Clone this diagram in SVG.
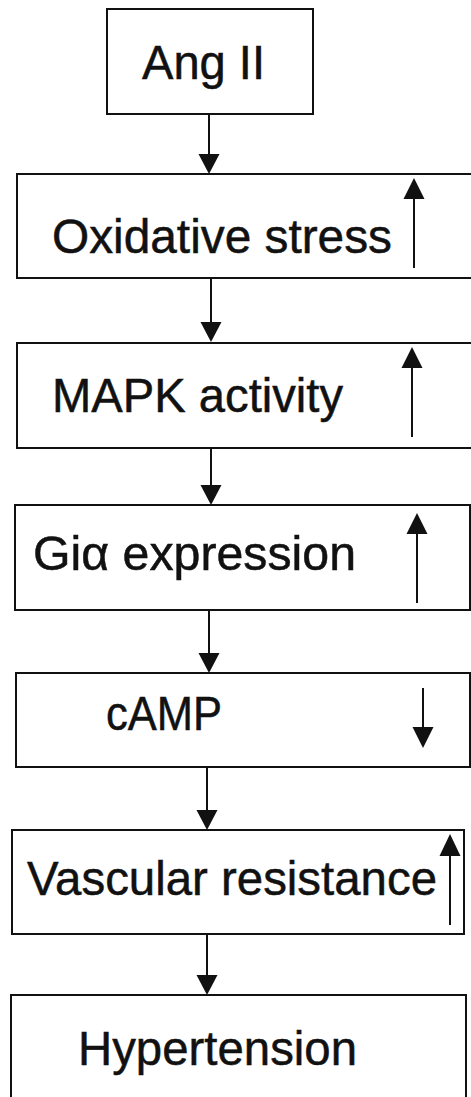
<svg xmlns="http://www.w3.org/2000/svg" width="471" height="1097" viewBox="0 0 471 1097">
<style>
.box{fill:#fff;stroke:#111;stroke-width:2}
.lbl{font-family:"Liberation Sans",Arial,sans-serif;font-size:48px;fill:#111;stroke:#111;stroke-width:0.5}
.ln{stroke:#111;stroke-width:2;fill:none}
.hd{fill:#111}
</style>
<rect width="471" height="1097" fill="#fff"/>
<g id="n1"><rect class="box" x="107" y="9" width="206" height="105"/><text class="lbl" x="142" y="79" textLength="123" lengthAdjust="spacingAndGlyphs">Ang II</text></g>
<g id="n2"><rect class="box" x="17" y="174" width="460" height="104"/><text class="lbl" x="52" y="253" textLength="340" lengthAdjust="spacingAndGlyphs">Oxidative stress</text>
<line class="ln" x1="414" y1="196" x2="414" y2="268"/><polygon class="hd" points="414,178 403.5,199 424.5,199"/></g>
<g id="n3"><rect class="box" x="17" y="343" width="460" height="105"/><text class="lbl" x="52" y="412" textLength="291" lengthAdjust="spacingAndGlyphs">MAPK activity</text>
<line class="ln" x1="412" y1="365" x2="412" y2="437"/><polygon class="hd" points="412,347 401.5,368 422.5,368"/></g>
<g id="n4"><rect class="box" x="15" y="505" width="455" height="105"/><text class="lbl" x="33" y="570" textLength="323" lengthAdjust="spacingAndGlyphs">Giα expression</text>
<line class="ln" x1="417" y1="531" x2="417" y2="603"/><polygon class="hd" points="417,513 406.5,534 427.5,534"/></g>
<g id="n5"><rect class="box" x="16" y="673" width="454" height="94"/><text class="lbl" x="106" y="730" textLength="116" lengthAdjust="spacingAndGlyphs">cAMP</text>
<line class="ln" x1="423" y1="688" x2="423" y2="730"/><polygon class="hd" points="423,748 412.5,727 433.5,727"/></g>
<g id="n6"><rect class="box" x="12" y="830" width="452" height="104"/><text class="lbl" x="27" y="895" textLength="410" lengthAdjust="spacingAndGlyphs">Vascular resistance</text>
<line class="ln" x1="450" y1="852" x2="450" y2="925"/><polygon class="hd" points="450,834 439.5,856 460.5,856"/></g>
<g id="n7"><rect class="box" x="11" y="995" width="455" height="120"/><text class="lbl" x="78" y="1065" textLength="279" lengthAdjust="spacingAndGlyphs">Hypertension</text></g>
<g id="connectors">
<line class="ln" x1="209" y1="114" x2="209" y2="156"/><polygon class="hd" points="209,174 198.5,154 219.5,154"/>
<line class="ln" x1="211" y1="278" x2="211" y2="323"/><polygon class="hd" points="211,342 200.5,322 221.5,322"/>
<line class="ln" x1="211" y1="448" x2="211" y2="487"/><polygon class="hd" points="211,505 200.5,485 221.5,485"/>
<line class="ln" x1="209" y1="610" x2="209" y2="654"/><polygon class="hd" points="209,673 198.5,653 219.5,653"/>
<line class="ln" x1="207" y1="767" x2="207" y2="812"/><polygon class="hd" points="207,830 196.5,810 217.5,810"/>
<line class="ln" x1="207" y1="934" x2="207" y2="977"/><polygon class="hd" points="207,995 196.5,975 217.5,975"/>
</g>
</svg>
